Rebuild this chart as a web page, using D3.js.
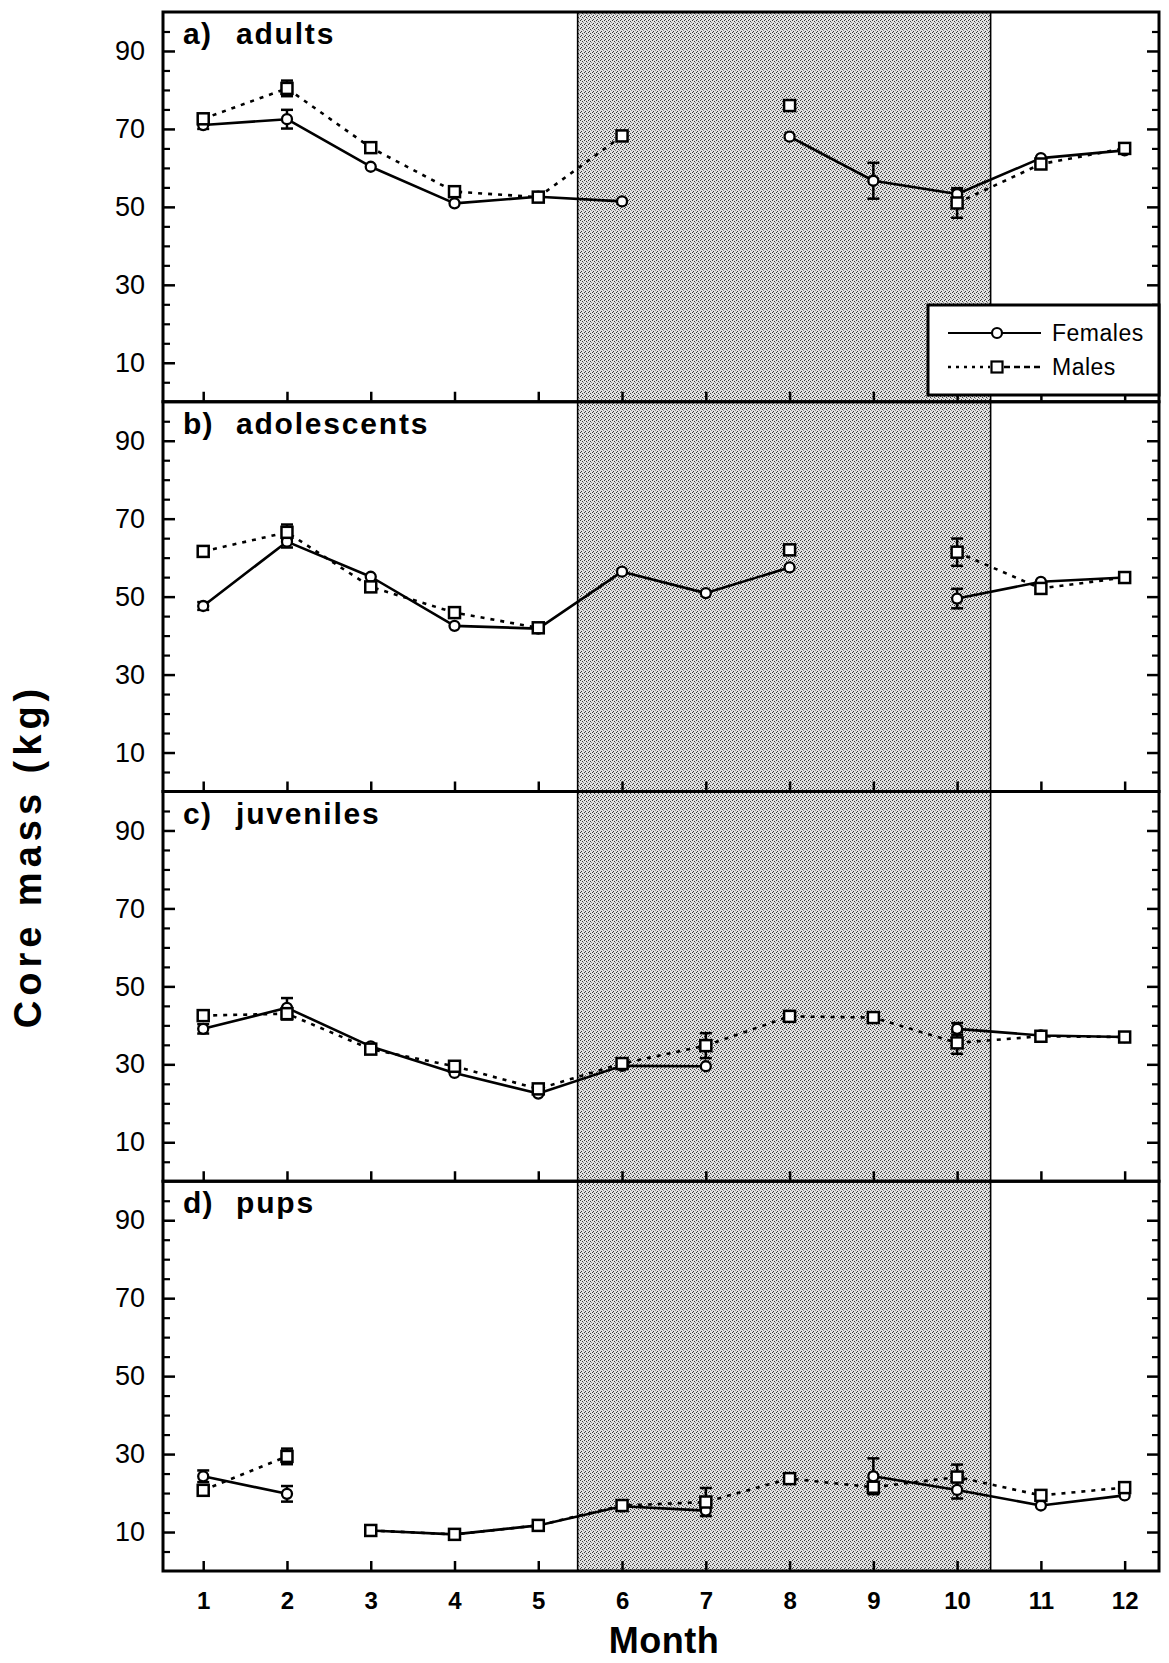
<!DOCTYPE html>
<html>
<head>
<meta charset="utf-8">
<script src="https://cdn.jsdelivr.net/npm/d3@7"></script>
<style>
  html, body { margin: 0; padding: 0; background: #fff; }
  svg { display: block; }
  text { font-family: "Liberation Sans", Arial, Helvetica, sans-serif; fill: #000; }
</style>
</head>
<body>
<svg id="chart" width="1169" height="1663"></svg>
<script>
// ---------------- DATA ----------------
const months = [1,2,3,4,5,6,7,8,9,10,11,12];
const monthTickLabels = ["1","2","3","4","5","6","7","8","9","10","11","12"];
const yTickLabels = [10,30,50,70,90];
const panelLabels = ["a)", "b)", "c)", "d)"];
const panelNames = ["adults", "adolescents", "juveniles", "pups"];
const seriesNames = ["Females", "Males"];
const shadedMonths = [5.47, 10.4];

// core mass (kg); null = no sample
const adultsFemale   = [71, 72.5, 60.3, 50.9, 52.6, 51.4, null, 68, 56.7, 53.3, 62.5, 64.5];
const adultsFemaleSE = [1, 2.4, 0, 0, 0, 0, null, 0, 4.6, 1, 0, 0];
const adultsMale     = [72.6, 80.4, 65.2, 53.9, 52.5, 68.2, null, 76, null, 51, 61, 65];
const adultsMaleSE   = [1, 2, 0, 0, 0, 0, null, 0, null, 3.8, 0, 0];

const adolFemale   = [47.6, 64.1, 55.1, 42.5, 41.8, 56.4, 50.9, 57.5, null, 49.5, 53.8, 54.9];
const adolFemaleSE = [1, 1.5, 0, 0, 0, 0, 0, 0, null, 2.5, 0, 0];
const adolMale     = [61.6, 66.5, 52.5, 45.9, 42, null, null, 62, null, 61.4, 52.1, 54.9];
const adolMaleSE   = [0, 2, 0, 0, 0, null, null, 0, null, 3.5, 0, 0];

const juvFemale   = [39.1, 44.5, 34.6, 27.8, 22.5, 29.6, 29.5, null, null, 39.1, 37.4, 37];
const juvFemaleSE = [1.2, 2.5, 0, 0, 0, 0, 0, null, null, 1.5, 0, 0];
const juvMale     = [42.5, 43, 33.9, 29.5, 23.7, 30.2, 34.8, 42.3, 42, 35.5, 37.2, 37];
const juvMaleSE   = [0, 1.5, 0, 0, 0, 0, 3.2, 0, 0, 2.8, 0, 0];

const pupsFemale   = [24.3, 19.8, 10.4, 9.4, 11.7, 16.6, 15.5, null, 24.3, 20.8, 16.8, 19.4];
const pupsFemaleSE = [1.5, 2, 0, 0, 0, 0, 0, null, 4.6, 2.2, 0, 0];
const pupsMale     = [20.7, 29.4, 10.4, 9.4, 11.7, 16.8, 17.7, 23.7, 21.5, 24.1, 19.4, 21.4];
const pupsMaleSE   = [0, 2, 0, 0, 0, 0, 3.6, 0, 0, 3.2, 0, 0];

// months after which the line is broken although both neighbours exist
const adultsBreaks = [];
const adolBreaks = [];
const juvBreaks = [];
const pupsBreaks = [2];

const panels = [
  {female: adultsFemale, femaleSE: adultsFemaleSE, male: adultsMale, maleSE: adultsMaleSE, breaks: adultsBreaks},
  {female: adolFemale,   femaleSE: adolFemaleSE,   male: adolMale,   maleSE: adolMaleSE,   breaks: adolBreaks},
  {female: juvFemale,    femaleSE: juvFemaleSE,    male: juvMale,    maleSE: juvMaleSE,    breaks: juvBreaks},
  {female: pupsFemale,   femaleSE: pupsFemaleSE,   male: pupsMale,   maleSE: pupsMaleSE,   breaks: pupsBreaks}
];

// ---------------- LAYOUT ----------------
const svg = d3.select("#chart");
const left = 163, right = 1159, top0 = 12, panelH = 389.75;
const bottomAll = top0 + panelH * 4;
const x = d3.scaleLinear().domain([0.52, 12.41]).range([left, right]);
const FONT = '"Liberation Sans", Arial, Helvetica, sans-serif';

svg.append("rect").attr("width", 1169).attr("height", 1663).attr("fill", "#fff");

// stipple pattern for shaded period
const defs = svg.append("defs");
const pat = defs.append("pattern").attr("id", "stipple")
  .attr("patternUnits", "userSpaceOnUse").attr("width", 4).attr("height", 4);
pat.append("rect").attr("width", 4).attr("height", 4).attr("fill", "#e2e2e2");
[[0,0],[2,1],[1,3]].forEach(([a,b]) =>
  pat.append("rect").attr("x", a).attr("y", b).attr("width", 1).attr("height", 1).attr("fill", "#3a3a3a"));
pat.append("rect").attr("x", 3).attr("y", 2).attr("width", 1).attr("height", 1).attr("fill", "#8a8a8a");

svg.append("rect")
  .attr("x", x(shadedMonths[0])).attr("y", top0)
  .attr("width", x(shadedMonths[1]) - x(shadedMonths[0]))
  .attr("height", bottomAll - top0)
  .attr("fill", "url(#stipple)").attr("shape-rendering", "crispEdges");
shadedMonths.forEach(m => {
  svg.append("line").attr("x1", x(m)).attr("x2", x(m)).attr("y1", top0).attr("y2", bottomAll)
    .attr("stroke", "#000").attr("stroke-width", 1.6);
});

function segments(vals, breaks) {
  const segs = []; let cur = [];
  vals.forEach((v, i) => {
    if (v == null) { if (cur.length) segs.push(cur); cur = []; return; }
    cur.push({m: months[i], v});
    if (breaks.includes(months[i])) { segs.push(cur); cur = []; }
  });
  if (cur.length) segs.push(cur);
  return segs;
}

panels.forEach((p, pi) => {
  const ptop = top0 + pi * panelH, pbot = ptop + panelH;
  const y = d3.scaleLinear().domain([0, 100]).range([pbot, ptop]);
  const g = svg.append("g");

  // left axis: labelled major ticks
  const la = g.append("g").attr("transform", `translate(${left},0)`)
    .call(d3.axisLeft(y).tickValues(yTickLabels).tickSize(-12).tickPadding(18).tickFormat(d3.format("d")));
  la.select(".domain").remove();
  la.selectAll("line").attr("stroke-width", 2.5);
  la.selectAll("text").attr("font-size", 27).attr("font-family", FONT);
  // minor ticks
  const minor = d3.range(5, 100, 5).filter(v => !yTickLabels.includes(v));
  const lm = g.append("g").attr("transform", `translate(${left},0)`)
    .call(d3.axisLeft(y).tickValues(minor).tickSize(-7).tickFormat(""));
  lm.select(".domain").remove();
  lm.selectAll("line").attr("stroke-width", 2.2);
  // right axis
  const ra = g.append("g").attr("transform", `translate(${right},0)`)
    .call(d3.axisRight(y).tickValues(yTickLabels).tickSize(-12).tickFormat(""));
  ra.select(".domain").remove();
  ra.selectAll("line").attr("stroke-width", 2.5);
  const rm = g.append("g").attr("transform", `translate(${right},0)`)
    .call(d3.axisRight(y).tickValues(minor).tickSize(-7).tickFormat(""));
  rm.select(".domain").remove();
  rm.selectAll("line").attr("stroke-width", 2.2);
  // bottom month ticks
  const ba = g.append("g").attr("transform", `translate(0,${pbot})`)
    .call(d3.axisBottom(x).tickValues(months).tickSize(-10).tickPadding(21)
      .tickFormat((d, i) => pi === panels.length - 1 ? monthTickLabels[i] : ""));
  ba.select(".domain").remove();
  ba.selectAll("line").attr("stroke-width", 2.5);
  ba.selectAll("text").attr("font-size", 24).attr("font-weight", "bold").attr("font-family", FONT);

  // panel frame
  g.append("rect").attr("x", left).attr("y", ptop).attr("width", right - left).attr("height", panelH)
    .attr("fill", "none").attr("stroke", "#000").attr("stroke-width", 3);

  const line = d3.line().x(d => x(d.m)).y(d => y(d.v));
  // female lines (solid)
  segments(p.female, p.breaks).filter(s => s.length > 1).forEach(s =>
    g.append("path").attr("d", line(s)).attr("fill", "none").attr("stroke", "#000")
      .attr("stroke-width", 2.6).attr("stroke-linejoin", "round"));
  // male lines (dotted)
  segments(p.male, p.breaks).filter(s => s.length > 1).forEach(s =>
    g.append("path").attr("d", line(s)).attr("fill", "none").attr("stroke", "#000")
      .attr("stroke-width", 2.6).attr("stroke-dasharray", "4,6"));

  // error bars
  function errBars(vals, se) {
    vals.forEach((v, i) => {
      if (v == null || !se[i]) return;
      const cx = x(months[i]), y1 = y(v + se[i]), y2 = y(v - se[i]);
      g.append("line").attr("x1", cx).attr("x2", cx).attr("y1", y1).attr("y2", y2)
        .attr("stroke", "#000").attr("stroke-width", 2.5);
      [y1, y2].forEach(yy => g.append("line").attr("x1", cx - 6).attr("x2", cx + 6)
        .attr("y1", yy).attr("y2", yy).attr("stroke", "#000").attr("stroke-width", 2.5));
    });
  }
  errBars(p.female, p.femaleSE);
  errBars(p.male, p.maleSE);

  // markers
  p.female.forEach((v, i) => {
    if (v == null) return;
    g.append("circle").attr("cx", x(months[i])).attr("cy", y(v)).attr("r", 5)
      .attr("fill", "#fff").attr("stroke", "#000").attr("stroke-width", 2.3);
  });
  p.male.forEach((v, i) => {
    if (v == null) return;
    g.append("rect").attr("x", x(months[i]) - 5.5).attr("y", y(v) - 5.5)
      .attr("width", 11).attr("height", 11)
      .attr("fill", "#fff").attr("stroke", "#000").attr("stroke-width", 2.5);
  });

  // panel title
  g.append("text").attr("x", left + 20).attr("y", ptop + 32)
    .attr("font-size", 30).attr("font-weight", "bold").attr("letter-spacing", 1.2)
    .text(panelLabels[pi]);
  g.append("text").attr("x", left + 73).attr("y", ptop + 32)
    .attr("font-size", 30).attr("font-weight", "bold").attr("letter-spacing", 1.8)
    .text(panelNames[pi]);
});

// legend (in panel a)
const lg = svg.append("g");
lg.append("rect").attr("x", 928).attr("y", 305).attr("width", right - 928).attr("height", 90)
  .attr("fill", "#fff").attr("stroke", "#000").attr("stroke-width", 3);
lg.append("line").attr("x1", 948).attr("x2", 1041).attr("y1", 333).attr("y2", 333)
  .attr("stroke", "#000").attr("stroke-width", 2.2);
lg.append("circle").attr("cx", 997).attr("cy", 333).attr("r", 5)
  .attr("fill", "#fff").attr("stroke", "#000").attr("stroke-width", 2.2);
lg.append("line").attr("x1", 948).attr("x2", 990).attr("y1", 367).attr("y2", 367)
  .attr("stroke", "#000").attr("stroke-width", 2.4).attr("stroke-dasharray", "3,5");
lg.append("line").attr("x1", 1004).attr("x2", 1041).attr("y1", 367).attr("y2", 367)
  .attr("stroke", "#000").attr("stroke-width", 2.4).attr("stroke-dasharray", "6,4");
lg.append("rect").attr("x", 991.5).attr("y", 361.5).attr("width", 11).attr("height", 11)
  .attr("fill", "#fff").attr("stroke", "#000").attr("stroke-width", 2.2);
lg.append("text").attr("x", 1052).attr("y", 341).attr("font-size", 23).attr("letter-spacing", 0.5)
  .text(seriesNames[0]);
lg.append("text").attr("x", 1052).attr("y", 375).attr("font-size", 23).attr("letter-spacing", 0.5)
  .text(seriesNames[1]);

// axis titles
svg.append("text").attr("transform", "rotate(-90)").attr("x", -856).attr("y", 41)
  .attr("text-anchor", "middle").attr("font-size", 38).attr("font-weight", "bold").attr("letter-spacing", 5)
  .text("Core mass (kg)");
svg.append("text").attr("x", 664).attr("y", 1653).attr("text-anchor", "middle")
  .attr("font-size", 36).attr("font-weight", "bold").attr("letter-spacing", 0.5)
  .text("Month");
</script>
</body>
</html>
